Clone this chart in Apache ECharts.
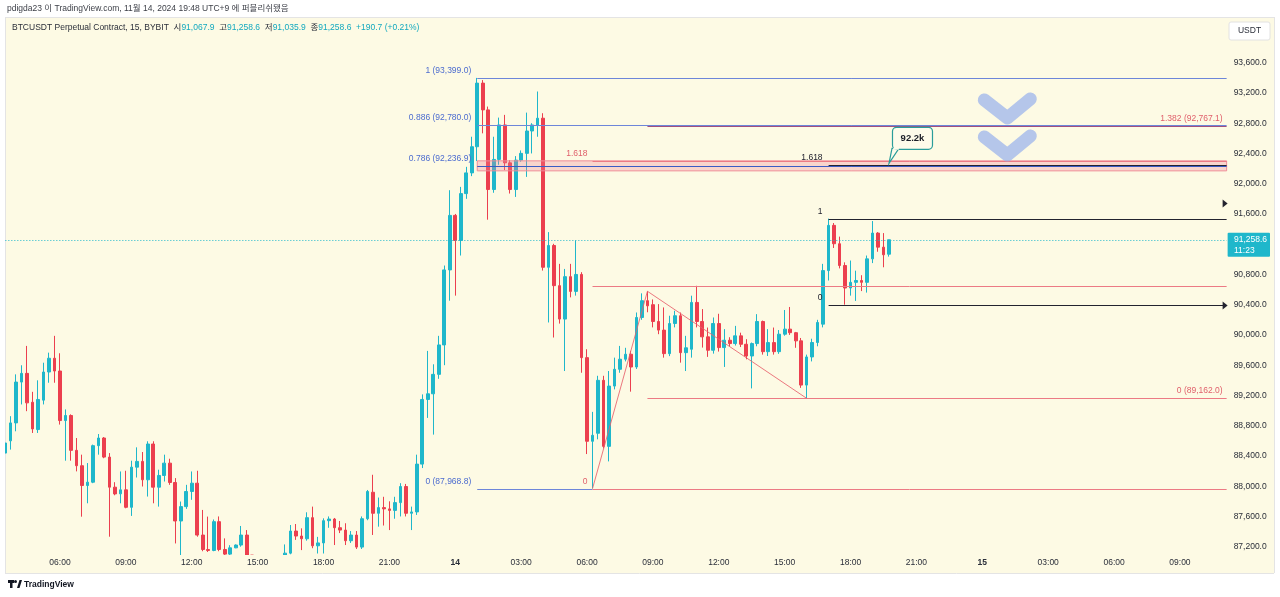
<!DOCTYPE html>
<html>
<head>
<meta charset="utf-8">
<title>BTCUSDT 15m</title>
<script src="https://cdn.jsdelivr.net/npm/echarts@6/dist/echarts.min.js"></script>
<style>
  html, body { margin: 0; padding: 0; background: #fff; }
  #panel { position: absolute; left: 5px; top: 17px; width: 1268px; height: 556px; background: #fdfae4; border: 1px solid #e4e4e4; }
  #chart { position: absolute; left: 0; top: 0; width: 1280px; height: 597px; }
</style>
</head>
<body>
<div id="panel"></div>
<div id="chart"></div>
<script>
// 15분봉, 11/13 03:30 부터 (한 칸 = 15분)
const opens = [
  88438, 88600, 88837, 89377, 89492, 89110, 88749, 89138, 89510, 89692,
  89523, 88868, 88935, 88474, 88271, 88009, 88053, 88536, 88637, 88385,
  87987, 87899, 87952, 87721, 88252, 88328, 88085, 88558, 87987, 88142,
  88305, 88049, 87540, 87730, 87930, 88040, 87354, 87163, 87150, 87531,
  87163, 87102, 87185, 87222, 87354, 87089, 86950, 86880, 86930, 86980,
  87020, 87080, 87115, 87407, 87341, 87305, 87584, 87212, 87250, 87544,
  87566, 87451, 87420, 87279, 87354, 87195, 87570, 87920, 87642, 87717,
  87700, 87680, 87783, 87996, 87642, 87660, 88292, 89147, 89222, 89479,
  89868, 90860, 91581, 91249, 91869, 92143, 92489, 93330, 92976, 91923,
  92321, 92777, 92276, 91923, 92312, 92401, 92697, 92777, 92866, 90895,
  91183, 90652, 90210, 90771, 90576, 90800, 89700, 88594, 88700, 89400,
  88527, 89324, 89546, 89679, 89745, 89576, 90231, 90453, 90400, 90178,
  90064, 89753, 90151, 90254, 89766, 89811, 90430, 90178, 89975, 89798,
  90151, 89833, 89930, 89886, 89988, 89877, 89722, 89886, 90178, 89779,
  89899, 89779, 90010, 90077, 90030, 89922, 89337, 89709, 89900, 90143,
  90851, 91449, 91206, 90918, 90621, 90696, 90720, 90696, 91006, 91347,
  91161, 91067.9
];
const closes = [
  88571, 88837, 89377, 89492, 89102, 88757, 89147, 89510, 89692, 89523,
  88868, 88935, 88474, 88271, 88009, 88053, 88536, 88637, 88385, 87987,
  87898, 87952, 87721, 88252, 88328, 88085, 88558, 87987, 88142, 88305,
  88049, 87540, 87730, 87930, 88040, 87354, 87163, 87150, 87531, 87163,
  87102, 87185, 87222, 87354, 87089, 86950, 86880, 86930, 86980, 87020,
  87080, 87115, 87407, 87341, 87305, 87584, 87212, 87250, 87544, 87566,
  87451, 87420, 87279, 87354, 87195, 87570, 87930, 87642, 87717, 87700,
  87680, 87783, 87996, 87642, 87660, 88292, 89147, 89222, 89479, 89868,
  90860, 91581, 91249, 91869, 92143, 92489, 93330, 92976, 91923, 92321,
  92777, 92276, 91923, 92312, 92401, 92697, 92777, 92866, 90895, 91183,
  90652, 90210, 90771, 90576, 90800, 89700, 88594, 88673, 89400, 88527,
  89324, 89546, 89679, 89745, 89576, 90231, 90453, 90385, 90178, 90064,
  89753, 90151, 90254, 89766, 89830, 90430, 90178, 89975, 89798, 90151,
  89833, 89930, 89886, 89988, 89877, 89722, 89886, 90178, 89779, 89899,
  89779, 90010, 90077, 90030, 89922, 89337, 89709, 89900, 90165, 90851,
  91449, 91206, 90918, 90621, 90696, 90720, 90696, 91006, 91347, 91161,
  91060, 91258.6
];
const lows = [
  88394, 88484, 88726, 89081, 88992, 88704, 88704, 89081, 89368, 89368,
  88815, 88337, 88337, 88196, 87597, 87774, 88040, 88417, 88370, 87332,
  87880, 87774, 87708, 87607, 88115, 87996, 87863, 87774, 87730, 88062,
  88018, 87243, 87089, 87700, 87820, 87332, 87140, 87130, 87140, 87140,
  87090, 87090, 87180, 87200, 87080, 86900, 86830, 86850, 86900, 86950,
  86980, 87000, 87100, 87290, 87155, 87280, 87180, 87110, 87110, 87450,
  87222, 87380, 87222, 87250, 87170, 87170, 87550, 87355, 87465, 87480,
  87420, 87570, 87600, 87600, 87420, 87620, 88240, 88903, 88682, 89420,
  89600, 90453, 90520, 91050, 91800, 92100, 92300, 92666, 91524, 91880,
  92250, 92180, 91870, 91825, 92290, 92090, 92400, 92621, 90851, 90165,
  89966, 90150, 89523, 90497, 90520, 89500, 88425, 87968.8, 88620, 88500,
  88328, 89280, 89500, 89650, 89250, 89550, 90200, 90300, 90100, 90010,
  89700, 89720, 90100, 89634, 89523, 89700, 90100, 89833, 89710, 89753,
  89780, 89577, 89850, 89860, 89840, 89678, 89293, 89850, 89740, 89722,
  89740, 89750, 89990, 90000, 89830, 89300, 89162, 89650, 89850, 90100,
  90720, 91150, 90880, 90400, 90520, 90450, 90580, 90560, 90950, 91100,
  90895, 91035.9
];
const highs = [
  88620, 88926, 89479, 89599, 89855, 89248, 89400, 89633, 89766, 89988,
  89758, 89015, 88950, 88637, 88417, 88306, 88550, 88690, 88650, 88438,
  88053, 88195, 88204, 88337, 88514, 88452, 88594, 88594, 88218, 88417,
  88363, 88107, 87797, 88018, 88195, 88204, 87686, 87598, 87560, 87600,
  87310, 87220, 87230, 87474, 87420, 87050, 86990, 86960, 87000, 87040,
  87050, 87230, 87487, 87500, 87443, 87655, 87730, 87330, 87575, 87600,
  87580, 87540, 87510, 87407, 87407, 87600, 87950, 88151, 87850, 87860,
  87800, 87860, 88040, 88030, 87730, 88417, 89214, 89789, 89612, 89988,
  90918, 91914, 91600, 91958, 92223, 92621, 93399, 93370, 93020, 92621,
  92874, 92910, 92312, 92365, 92440, 92940, 92800, 93219, 92932, 91360,
  91205, 90940, 90873, 90940, 91250, 90830, 89811, 88983, 89460, 89460,
  89523, 89700, 89855, 89830, 89790, 90297, 90550, 90577.5, 90470, 90408,
  90364, 90254, 90320, 90297, 89988, 90519, 90650, 90342, 90098, 90231,
  90280, 90077, 89970, 90120, 90030, 89944, 89900, 90275, 90190, 90077,
  90098, 90065, 90330, 90370, 90040, 89960, 89740, 89950, 90200, 90940,
  91538, 91480, 91300, 90960, 90984, 90850, 90790, 91050, 91506, 91360,
  91347, 91258.6
];

// 시간축: 223칸, 06:00(11/13)이 10번째 칸, 3시간(12칸)마다 라벨
const slotCount = 223;
const firstTickSlot = 10;
const ticksEvery = 12;
const timeTicks = ['06:00', '09:00', '12:00', '15:00', '18:00', '21:00', '14', '03:00', '06:00',
                   '09:00', '12:00', '15:00', '18:00', '21:00', '15', '03:00', '06:00', '09:00'];

const lastPrice = 91258.6;

// 피보나치 (파랑): 고점 93,399 / 저점 87,968.8
const blueFibLevels = ['1', '0.886', '0.786', '0'];
const blueFibPrices = [93399.0, 92780.0, 92236.9, 87968.8];
// 피보나치 (빨강) 저점 → 반등고점
const redFibLevels = ['0', '1', '1.618'];
const redFibPrices = [87968.8, 90645, 92299];
// 추세 기반 확장 (빨강)
const extLevels = ['0', '1.382'];
const extPrices = [89162.0, 92767.1];
const zigzagSlots = [107, 117, 146];
const zigzagPrices = [87968.8, 90577.5, 89162.0];
// 피보나치 (검정)
const blackFibLevels = ['1', '0', '1.618'];
const blackFibPrices = [91538, 90400, 92241];
// 분홍 구간
const zonePrices = [92302, 92170];

const UP = '#1fb7cb';
const DOWN = '#ec3f4e';
const FONT = '"Liberation Sans", "Noto Sans CJK KR", sans-serif';
const TXT = '#2a2e39';
const PANEL = '#fdfae4';

const slots = [];
for (let i = 0; i < slotCount; i++) slots.push(String(i));
const candles = opens.map((o, i) => [o, closes[i], lows[i], highs[i]]);
const fmt = v => v.toLocaleString('en-US', { minimumFractionDigits: 1, maximumFractionDigits: 1 });

const chart = echarts.init(document.getElementById('chart'));
chart.setOption({
  animation: false,
  grid: { left: 2.355, top: 2.2, width: 1224.27, height: 574.75 },
  xAxis: {
    type: 'category',
    data: slots,
    boundaryGap: true,
    z: 10,
    offset: -14,
    axisLine: { show: false },
    axisTick: { show: false },
    splitLine: { show: false },
    axisLabel: {
      interval: idx => idx >= firstTickSlot && (idx - firstTickSlot) % ticksEvery === 0,
      formatter: v => {
        const t = timeTicks[(Number(v) - firstTickSlot) / ticksEvery] || '';
        return t.indexOf(':') < 0 && t ? '{b|' + t + '}' : t;
      },
      margin: 0,
      verticalAlign: 'middle',
      color: TXT,
      fontSize: 8.5,
      fontFamily: FONT,
      rich: { b: { fontWeight: 'bold', fontSize: 8.5, fontFamily: FONT, color: TXT } }
    }
  },
  yAxis: {
    type: 'value',
    position: 'right',
    min: 86800,
    max: 94400,
    interval: 400,
    z: 10,
    axisLine: { show: false },
    axisTick: { show: false },
    splitLine: { show: false },
    axisLabel: {
      margin: 7,
      color: TXT,
      fontSize: 8.5,
      fontFamily: FONT,
      formatter: v => (v < 87200 || v > 93600) ? '' : fmt(v)
    }
  },
  series: [{
    type: 'candlestick',
    data: candles,
    barWidth: 3.2,
    clip: true,
    itemStyle: { color: UP, color0: DOWN, borderColor: UP, borderColor0: DOWN, borderWidth: 1 },
    markLine: {
      silent: true,
      symbol: 'none',
      label: { show: false },
      lineStyle: { type: [1, 2], color: UP, width: 1 },
      data: [{ yAxis: lastPrice }]
    }
  }]
});

// 그리기 도구들은 축 스케일로 픽셀 변환
const P = (i, v) => chart.convertToPixel({ gridIndex: 0 }, [i, v]);
const bw = P(1, 0)[0] - P(0, 0)[0];
const xEnd = P(slotCount - 1, 90000)[0] + bw / 2;
const snap = y => Math.round(y) + 0.5;

const els = [];
function hline(x1, x2, price, color, z) {
  const y = snap(P(0, price)[1]);
  els.push({ type: 'line', silent: true, z: z || 3, shape: { x1, y1: y, x2, y2: y }, style: { stroke: color, lineWidth: 1 } });
  return y;
}
function label(text, x, y, color, align, weight, z) {
  els.push({
    type: 'text', silent: true, z: z || 4,
    style: { text, x, y, fill: color, font: (weight || 'normal') + ' 8.5px ' + FONT, align: align || 'left', verticalAlign: 'middle' }
  });
}

// 가림막: 시간축 영역, 패널 바깥
els.push({ type: 'rect', silent: true, z: 6, shape: { x: 6, y: 555, width: xEnd - 6, height: 18 }, style: { fill: PANEL } });
els.push({ type: 'rect', silent: true, z: 6, shape: { x: 0, y: 573, width: 1280, height: 24 }, style: { fill: '#ffffff' } });
els.push({ type: 'line', silent: true, z: 7, shape: { x1: 5, y1: 573.5, x2: 1274, y2: 573.5 }, style: { stroke: '#e4e4e4', lineWidth: 1 } });
els.push({ type: 'rect', silent: true, z: 6, shape: { x: 0, y: 0, width: 5, height: 597 }, style: { fill: '#ffffff' } });

// 상단 헤더
label('pdigda23 이 TradingView.com, 11월 14, 2024 19:48 UTC+9 에 퍼블리쉬됐음', 7, 9, '#3c3f47');
els.push({
  type: 'text', silent: true, z: 4,
  style: {
    x: 12, y: 28, verticalAlign: 'middle',
    text: '{d|BTCUSDT Perpetual Contract, 15, BYBIT  시}{v|' + fmt(opens[opens.length - 1]) +
          '}{d|  고}{v|' + fmt(highs[highs.length - 1]) + '}{d|  저}{v|' + fmt(lows[lows.length - 1]) +
          '}{d|  종}{v|' + fmt(lastPrice) + '}{v|  +190.7 (+0.21%)}',
    rich: {
      d: { fill: TXT, font: '8.5px ' + FONT },
      v: { fill: '#13a9bf', font: '8.5px ' + FONT }
    }
  }
});

// 분홍 구간
const zx1 = P(86, 0)[0];
const zy1 = P(0, zonePrices[0])[1], zy2 = P(0, zonePrices[1])[1];
els.push({ type: 'rect', silent: true, z: 3, shape: { x: zx1, y: zy1, width: xEnd - zx1, height: zy2 - zy1 },
  style: { fill: 'rgba(240,130,150,0.30)', stroke: '#ee8c98', lineWidth: 1 } });

// 파랑 피보나치
blueFibPrices.forEach((p, k) => {
  const x1 = P(86, p)[0];
  const x2 = blueFibLevels[k] === '0' ? P(107, p)[0] : xEnd;
  const y = hline(x1, x2, p, k === 2 ? '#3a5cc4' : '#6d86d9');
  label(blueFibLevels[k] + ' (' + fmt(p) + ')', x1 - 6, y - 8, '#4c6ccf', 'right');
});

// 빨강 피보나치
redFibPrices.forEach((p, k) => {
  const x1 = P(107, p)[0];
  const y = hline(x1, xEnd, p, '#ec7a84');
  if (redFibLevels[k] !== '1') label(redFibLevels[k], x1 - 5, y - 8, '#e0606c', 'right');
});

// 추세 기반 확장
extPrices.forEach((p, k) => {
  const x1 = P(117, p)[0];
  const y = hline(x1, xEnd, p, k === 1 ? '#a2507e' : '#ec7a84');
  label(extLevels[k] + ' (' + fmt(p) + ')', xEnd - 4, y - 8, '#e0606c', 'right');
});
els.push({ type: 'polyline', silent: true, z: 3,
  shape: { points: zigzagSlots.map((s, k) => P(s, zigzagPrices[k])) },
  style: { stroke: 'rgba(232,96,108,0.85)', lineWidth: 1, fill: null } });

// 검정 피보나치
blackFibPrices.forEach((p, k) => {
  const x1 = P(150, p)[0];
  const y = hline(x1, xEnd, p, '#23232f');
  label(blackFibLevels[k], x1 - 6, y - 8, '#23232f', 'right');
});
[91740, 90400].forEach(p => {
  const y = snap(P(0, p)[1]);
  els.push({ type: 'polygon', silent: true, z: 4,
    shape: { points: [[xEnd - 4, y - 4], [xEnd + 1, y], [xEnd - 4, y + 4]] }, style: { fill: '#23232f' } });
});

// 말풍선 92.2k
const tip = P(161, 92270);
els.push({ type: 'polygon', silent: true, z: 5,
  shape: { points: [[tip[0] + 3, tip[1] - 15], [tip[0], tip[1]], [tip[0] + 10, tip[1] - 15]] },
  style: { fill: '#fdfbea', stroke: '#2a9d9a', lineWidth: 1.2 } });
els.push({ type: 'rect', silent: true, z: 5,
  shape: { x: tip[0] + 3.5, y: tip[1] - 36, width: 40, height: 22, r: 4 },
  style: { fill: '#fdfbea', stroke: '#2a9d9a', lineWidth: 1.2 } });
els.push({ type: 'rect', silent: true, z: 5,
  shape: { x: tip[0] + 4.2, y: tip[1] - 15.5, width: 5.6, height: 2 }, style: { fill: '#fdfbea' } });
els.push({ type: 'text', silent: true, z: 6,
  style: { text: '92.2k', x: tip[0] + 23.5, y: tip[1] - 25, fill: '#1c1f28', font: 'bold 9.5px ' + FONT, align: 'center', verticalAlign: 'middle' } });

// 이중 체크(∨∨)
const chev = P(182, 92870);
[0, 37].forEach(dy => {
  els.push({ type: 'polyline', silent: true, z: 3,
    shape: { points: [[chev[0] - 20, chev[1] + dy - 18], [chev[0] + 3, chev[1] + dy], [chev[0] + 26, chev[1] + dy - 19]] },
    style: { stroke: 'rgba(150,175,236,0.7)', lineWidth: 13, lineCap: 'round', lineJoin: 'round', fill: null } });
});

// 현재가 라벨 (축 라벨 위)
const py = P(0, lastPrice)[1];
els.push({ type: 'rect', silent: true, z: 12, shape: { x: xEnd + 1, y: py - 7, width: 1270 - xEnd - 1, height: 24, r: 1 }, style: { fill: UP } });
label(fmt(lastPrice), 1234, py, '#ffffff', 'left', 'normal', 13);
label('11:23', 1234, py + 11, '#ffffff', 'left', 'normal', 13);

// USDT
els.push({ type: 'rect', silent: true, z: 12, shape: { x: 1229, y: 22, width: 41, height: 18, r: 2 }, style: { fill: '#ffffff', stroke: '#e2e2e2' } });
label('USDT', 1249.5, 31, TXT, 'center', 'normal', 13);

// TradingView 로고
els.push({ type: 'rect', silent: true, z: 8, shape: { x: 8, y: 580, width: 6, height: 3 }, style: { fill: '#131722' } });
els.push({ type: 'rect', silent: true, z: 8, shape: { x: 10, y: 580, width: 2.5, height: 8 }, style: { fill: '#131722' } });
els.push({ type: 'circle', silent: true, z: 8, shape: { cx: 15.5, cy: 581.5, r: 1.5 }, style: { fill: '#131722' } });
els.push({ type: 'polygon', silent: true, z: 8, shape: { points: [[17, 588], [19.5, 580], [22, 580], [19.5, 588]] }, style: { fill: '#131722' } });
label('TradingView', 24, 584.5, '#131722', 'left', 'bold', 8);

chart.setOption({ graphic: { elements: els } });
</script>
</body>
</html>
